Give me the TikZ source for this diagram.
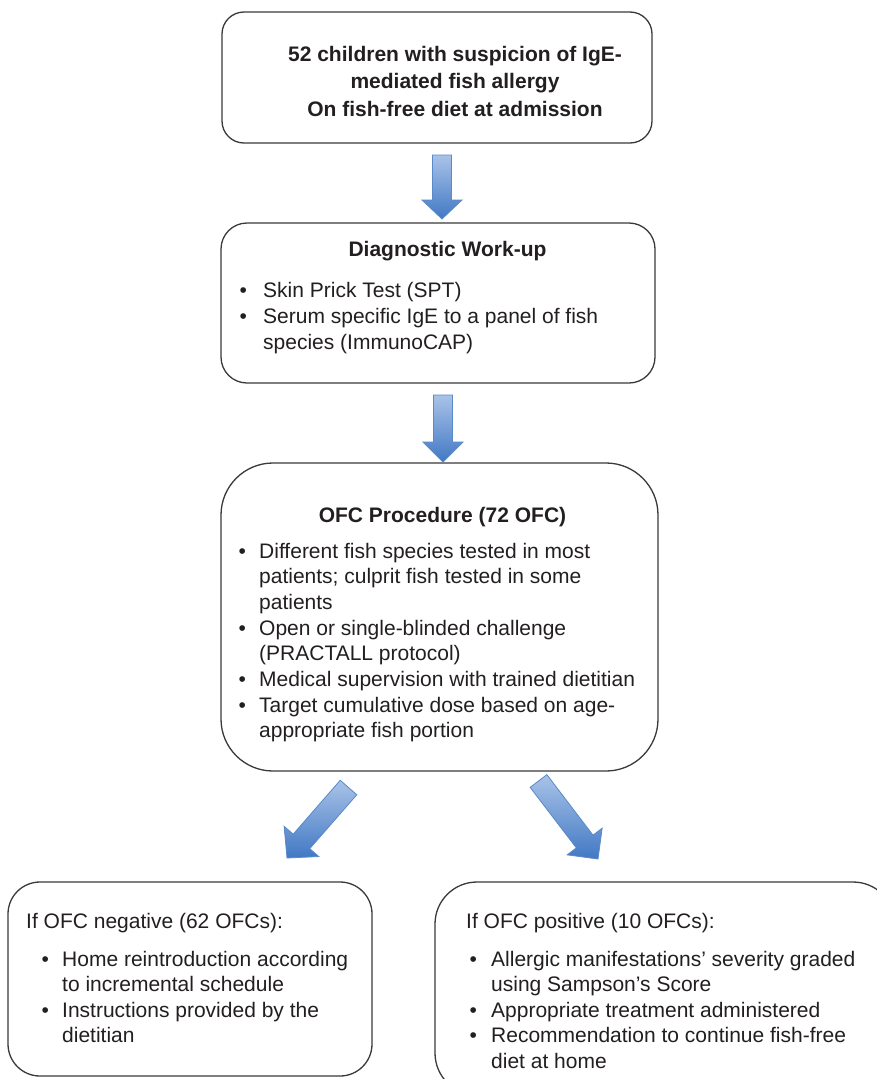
\documentclass[tikz,border=0pt]{standalone}
\usepackage{fontspec}
\setmainfont{Liberation Sans}
\usetikzlibrary{calc}
\definecolor{txt}{HTML}{231F20}
\definecolor{boxline}{HTML}{3A3A3A}
\definecolor{arlight}{HTML}{A9C3E8}
\definecolor{ardark}{HTML}{4178C4}
\definecolor{arline}{HTML}{5A8AC8}
\newcommand\blt[1]{\makebox[#1][l]{\textbullet}}
\newcommand\lns[1]{\vtop{\lineskiplimit=-1000pt\lineskip=0pt\halign{##\hfil\cr#1\crcr}}}
\newcommand\clns[1]{\vtop{\lineskiplimit=-1000pt\lineskip=0pt\halign{\hfil##\hfil\cr#1\crcr}}}
\newcommand\blockarrow[5]{%
  \coordinate (#1hb) at ($(#2)!#5!(#1)$);
  \path[fatarrow] ($(#1)!#3!90:(#2)$) -- ($(#1hb)!#3!90:(#2)$) -- ($(#1hb)!#4!90:(#2)$) -- (#2)
    -- ($(#1hb)!#4!-90:(#2)$) -- ($(#1hb)!#3!-90:(#2)$) -- ($(#1)!#3!-90:(#2)$) -- cycle;}
\begin{document}
\begin{tikzpicture}[x=1pt,y=-1pt,
  box/.style={draw=boxline, line width=1.3pt, fill=white, inner sep=0pt},
  tnode/.style={inner sep=0pt, text=txt, font=\fontsize{21}{25.7}\selectfont},
  ttl/.style={tnode, font=\bfseries\fontsize{21}{25.7}\selectfont},
  fatarrow/.style={draw=arline, line width=0.8pt, top color=arlight, bottom color=ardark}]
\useasboundingbox (0,0) rectangle (877,1079);
\clip (0,0) rectangle (877,1079);
\fill[white] (0,0) rectangle (877,1079);

% boxes
\node[box, minimum width=430pt, minimum height=131pt, rounded corners=22pt] (b1) at (437,77.5) {};
\node[box, minimum width=434pt, minimum height=160pt, rounded corners=26pt] (b2) at (438,303) {};
\node[box, minimum width=437pt, minimum height=308pt, rounded corners=52pt] (b3) at (439.5,617) {};
\node[box, minimum width=364pt, minimum height=194pt, rounded corners=32pt] (b4) at (190,979) {};
\node[box, minimum width=460pt, minimum height=213pt, rounded corners=42pt] (b5) at (665,988.5) {};

% box 1 text
\node[tnode, font=\bfseries\fontsize{21}{27.5}\selectfont, anchor=base] (t1) at (455,61)
  {\clns{52 children with suspicion of IgE-\cr mediated fish allergy\cr On fish-free diet at admission}};

% box 2 text
\node[ttl, anchor=base] (t2) at (447.5,256) {Diagnostic Work-up};
\node[tnode, font=\fontsize{21}{26}\selectfont, anchor=base west] (l2) at (239.3,297)
  {\lns{\blt{23.7pt}Skin Prick Test (SPT)\cr
   \blt{23.7pt}Serum specific IgE to a panel of fish\cr
   \hspace*{23.7pt}species (ImmunoCAP)}};

% box 3 text
\node[ttl, anchor=base] (t3) at (442.5,522) {OFC Procedure (72 OFC)};
\node[tnode, anchor=base west] (l3) at (238.3,558)
  {\lns{\blt{20.7pt}Different fish species tested in most\cr
   \hspace*{20.7pt}patients; culprit fish tested in some\cr
   \hspace*{20.7pt}patients\cr
   \blt{20.7pt}Open or single-blinded challenge\cr
   \hspace*{20.7pt}(PRACTALL protocol)\cr
   \blt{20.7pt}Medical supervision with trained dietitian\cr
   \blt{20.7pt}Target cumulative dose based on age-\cr
   \hspace*{20.7pt}appropriate fish portion}};

% box 4 text
\node[tnode, anchor=base west] (t4) at (26,928) {If OFC negative (62 OFCs):};
\node[tnode, font=\fontsize{21}{25.5}\selectfont, anchor=base west] (l4) at (41.3,966)
  {\lns{\blt{20.7pt}Home reintroduction according\cr
   \hspace*{20.7pt}to incremental schedule\cr
   \blt{20.7pt}Instructions provided by the\cr
   \hspace*{20.7pt}dietitian}};

% box 5 text
\node[tnode, anchor=base west] (t5) at (466,928) {If OFC positive (10 OFCs):};
\node[tnode, font=\fontsize{21}{25.5}\selectfont, anchor=base west] (l5) at (469.3,966)
  {\lns{\blt{21.7pt}Allergic manifestations’ severity graded\cr
   \hspace*{21.7pt}using Sampson’s Score\cr
   \blt{21.7pt}Appropriate treatment administered\cr
   \blt{21.7pt}Recommendation to continue fish-free\cr
   \hspace*{21.7pt}diet at home}};

% arrows
\coordinate (a1t) at (442,155);   \coordinate (a1p) at (442,219);
\coordinate (a2t) at (443,395);   \coordinate (a2p) at (443,462);
\coordinate (a3t) at (348.5,787.5); \coordinate (a3p) at (287,858);
\coordinate (a4t) at (538.5,781); \coordinate (a4p) at (598,859);
\blockarrow{a1t}{a1p}{9.5pt}{20pt}{19pt}
\blockarrow{a2t}{a2p}{9.5pt}{20pt}{20pt}
\blockarrow{a3t}{a3p}{11pt}{23pt}{22pt}
\blockarrow{a4t}{a4p}{10.5pt}{22pt}{22pt}
\end{tikzpicture}
\end{document}
